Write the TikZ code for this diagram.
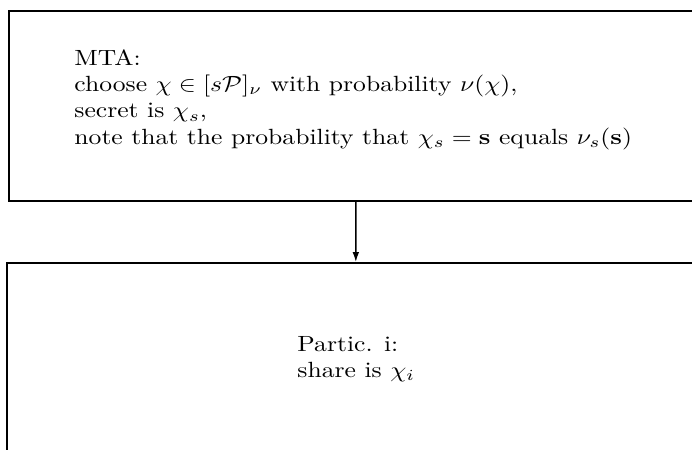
\documentclass[tikz,border=0pt]{standalone}
\usepackage{graphicx}
\usetikzlibrary{arrows.meta}
\begin{document}
\begin{tikzpicture}[x=0.4545pt,y=-0.4545pt,
  box/.style={draw, line width=0.8pt, rectangle, inner sep=0pt, anchor=north west},
  txt/.style={inner sep=0pt, anchor=base west, font=\fontsize{10}{12}\selectfont},
  arr/.style={-{Latex[length=4.5pt,width=3pt]}, line width=0.6pt}]
\path[use as bounding box, clip] (0,0) rectangle (692,449);
\node[box, minimum width=315.4pt, minimum height=86.4pt] (mta) at (8,10) {};
\node[box, minimum width=317.2pt, minimum height=90.9pt] (partic) at (6,262) {};
\draw[arr] (mta.south) -- (partic.north);
\node[txt] (mtatext) at (74,65) {\scalebox{1.165}[1]{\begin{tabular}[t]{@{}l@{}}MTA:\\
choose $\chi\in[s\mathcal{P}]_\nu$ with probability $\nu(\chi)$,\\
secret is $\chi_s$,\\
note that the probability that $\chi_s=\mathbf{s}$ equals $\nu_s(\mathbf{s})$\end{tabular}}};
\node[txt] (partictext) at (297,351) {\scalebox{1.165}[1]{\begin{tabular}[t]{@{}l@{}}Partic. i:\\
share is $\chi_i$\end{tabular}}};
\end{tikzpicture}
\end{document}
